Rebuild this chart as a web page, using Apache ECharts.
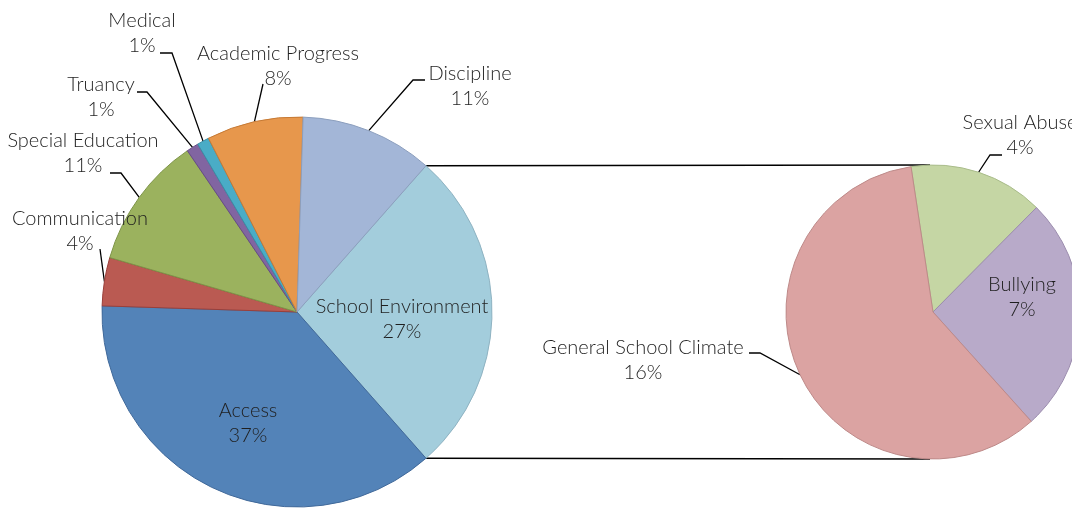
<!DOCTYPE html>
<html>
<head>
<meta charset="utf-8">
<script src="https://cdn.jsdelivr.net/npm/echarts@6/dist/echarts.min.js"></script>
<style>
html,body{margin:0;padding:0;background:#fff;}
#chart{width:1072px;height:510px;}
</style>
</head>
<body>
<div id="chart"></div>
<script>
// ---- data ----
const mainCategories = ['School Environment', 'Access', 'Communication', 'Special Education', 'Truancy', 'Medical', 'Academic Progress', 'Discipline'];
const mainValues = [27, 37, 4, 11, 1, 1, 8, 11];
const subCategories = ['Sexual Abuse', 'Bullying', 'General School Climate'];
const subValues = [4, 7, 16];

// ---- styles ----
const mainColors = ['#A3CDDC', '#5383B8', '#BA5A52', '#9BB25E', '#8165A1', '#4AACC6', '#E7974C', '#A3B6D7'];
const mainBorders = ['#8FB3C2', '#40699A', '#9A3F3A', '#7E9548', '#674C86', '#3A8EA6', '#C67A35', '#8C9FBE'];
const subColors = ['#C5D6A4', '#B8AAC9', '#DBA3A2'];
const subBorders = ['#A9BC8A', '#9C8DAE', '#BE8A89'];

// ---- layout (label centre, leader attach offset from centre, elbow length) ----
const mainLabelLayout = {
  'School Environment': {c: [402, 319], inside: true},
  'Access': {c: [248, 423], inside: true},
  'Communication': {c: [80, 231], att: [20, 18], elbow: 0},
  'Special Education': {c: [83, 153], att: [27, 20], elbow: 11},
  'Truancy': {c: [101, 97], att: [36, -5], elbow: 10},
  'Medical': {c: [142, 33], att: [18, 20], elbow: 12},
  'Academic Progress': {c: [278, 66], att: [-15, 18], elbow: 0},
  'Discipline': {c: [470, 86], att: [-45, -6], elbow: -12}
};
const subLabelLayout = {
  'Sexual Abuse': {c: [1020, 135], att: [-18, 20], elbow: -12},
  'Bullying': {c: [1022, 297], inside: true},
  'General School Climate': {c: [643, 360], att: [106, -7], elbow: 11}
};

const mainCenter = [297, 312], mainRadius = 195, mainStart = 48.6;
const subCenter = [933, 312], subRadius = 147, subStart = 98.6;
const FONT = 'Lato, "Open Sans", sans-serif';

function buildData(names, values, colors, borders, layout) {
  return names.map((n, i) => {
    const item = {
      name: n, value: values[i],
      itemStyle: {color: colors[i], borderColor: borders[i], borderWidth: 1}
    };
    if (layout[n].inside) {
      item.label = {position: 'inside'};
      item.labelLine = {show: false};
    }
    return item;
  });
}

function makeLayout(names, layout) {
  return function (params) {
    const cfg = layout[names[params.dataIndex]];
    const out = {x: cfg.c[0], y: cfg.c[1], align: 'center', verticalAlign: 'middle'};
    if (!cfg.inside && params.labelLinePoints) {
      const anchor = params.labelLinePoints[0];
      const att = [cfg.c[0] + cfg.att[0], cfg.c[1] + cfg.att[1]];
      const elb = [att[0] + cfg.elbow, att[1]];
      out.labelLinePoints = [anchor, elb, att];
    }
    return out;
  };
}

const labelStyle = {
  show: true,
  formatter: '{b}\n{c}%',
  fontFamily: FONT,
  fontSize: 20,
  fontWeight: 300,
  lineHeight: 25,
  color: '#1f1f1f',
  align: 'center'
};

// connector lines between the pies, from the split slice's edges
const total = mainValues.reduce((a, b) => a + b, 0);
const a0 = mainStart * Math.PI / 180;
const a1 = (mainStart - 360 * mainValues[0] / total) * Math.PI / 180;
const p0 = [mainCenter[0] + mainRadius * Math.cos(a0), mainCenter[1] - mainRadius * Math.sin(a0)];
const p1 = [mainCenter[0] + mainRadius * Math.cos(a1), mainCenter[1] - mainRadius * Math.sin(a1)];
const q0 = [subCenter[0] - 3, subCenter[1] - subRadius];
const q1 = [subCenter[0] - 3, subCenter[1] + subRadius];

const chart = echarts.init(document.getElementById('chart'), null, {renderer: 'canvas'});
chart.setOption({
  animation: false,
  backgroundColor: '#ffffff',
  graphic: [
    {type: 'line', z: -1, shape: {x1: p0[0], y1: p0[1], x2: q0[0], y2: q0[1]}, style: {stroke: '#000', lineWidth: 1.3}},
    {type: 'line', z: -1, shape: {x1: p1[0], y1: p1[1], x2: q1[0], y2: q1[1]}, style: {stroke: '#000', lineWidth: 1.3}}
  ],
  series: [
    {
      type: 'pie',
      center: mainCenter,
      radius: mainRadius,
      startAngle: mainStart,
      clockwise: true,
      avoidLabelOverlap: false,
      emphasis: {disabled: true},
      label: labelStyle,
      labelLine: {show: true, length: 10, length2: 10, smooth: false, lineStyle: {color: '#000', width: 1.3}},
      labelLayout: makeLayout(mainCategories, mainLabelLayout),
      data: buildData(mainCategories, mainValues, mainColors, mainBorders, mainLabelLayout)
    },
    {
      type: 'pie',
      center: subCenter,
      radius: subRadius,
      startAngle: subStart,
      clockwise: true,
      avoidLabelOverlap: false,
      emphasis: {disabled: true},
      label: labelStyle,
      labelLine: {show: true, length: 10, length2: 10, smooth: false, lineStyle: {color: '#000', width: 1.3}},
      labelLayout: makeLayout(subCategories, subLabelLayout),
      data: buildData(subCategories, subValues, subColors, subBorders, subLabelLayout)
    }
  ]
});
</script>
</body>
</html>
